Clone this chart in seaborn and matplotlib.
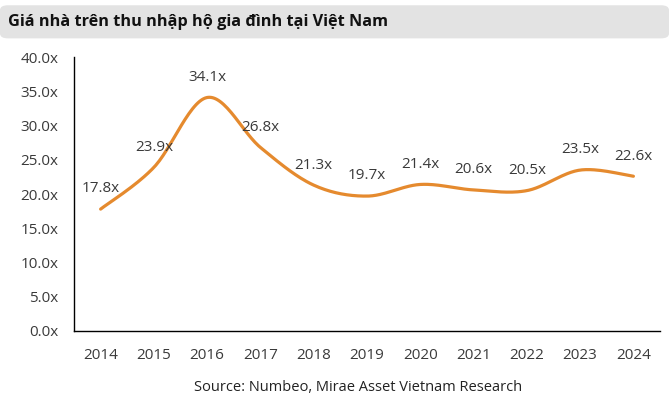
import numpy as np
import pandas as pd
import matplotlib
matplotlib.use("Agg")
import matplotlib.pyplot as plt
from matplotlib.patches import FancyBboxPatch
import seaborn as sns

# Dữ liệu
years = ["2014", "2015", "2016", "2017", "2018", "2019", "2020", "2021", "2022", "2023", "2024"]
ratio = [17.8, 23.9, 34.1, 26.8, 21.3, 19.7, 21.4, 20.6, 20.5, 23.5, 22.6]
labels = ["17.8x", "23.9x", "34.1x", "26.8x", "21.3x", "19.7x", "21.4x", "20.6x", "20.5x", "23.5x", "22.6x"]

sns.set_style("white")
plt.rcParams["font.family"] = ["Open Sans", "DejaVu Sans"]

text_col = "#3a3a3a"
line_col = "#E58A2E"

fig = plt.figure(figsize=(6.69, 4.04), dpi=100)
ax = fig.add_axes([0.1106, 0.1807, 0.876, 0.678])

# duong cong muot kieu Excel (Catmull-Rom)
x = np.arange(len(years), dtype=float)
y = np.array(ratio)
px = np.concatenate([[x[0]], x, [x[-1]]])
py = np.concatenate([[y[0]], y, [y[-1]]])
xs, ys = [], []
t = np.linspace(0, 1, 30)
for i in range(1, len(px) - 2):
    p0, p1, p2, p3 = [np.array([px[j], py[j]]) for j in range(i - 1, i + 3)]
    c1 = p1 + (p2 - p0) / 6
    c2 = p2 - (p3 - p1) / 6
    seg = ((1 - t) ** 3)[:, None] * p1 + (3 * (1 - t) ** 2 * t)[:, None] * c1 \
        + (3 * (1 - t) * t ** 2)[:, None] * c2 + (t ** 3)[:, None] * p2
    xs.extend(seg[:, 0])
    ys.extend(seg[:, 1])
curve = pd.DataFrame({"x": xs, "y": ys})
sns.lineplot(data=curve, x="x", y="y", ax=ax, color=line_col, linewidth=2.3,
             sort=False, estimator=None)

for xi, yi, lab in zip(x, y, labels):
    ax.annotate(lab, (xi, yi), xytext=(0, 14.5), textcoords="offset points",
                ha="center", va="center", fontsize=11, color=text_col)

ax.set_xlim(-0.5, len(years) - 0.5)
ax.set_ylim(0, 40)
ax.set_yticks(np.arange(0, 41, 5))
ax.set_yticklabels([f"{v:.1f}x" for v in np.arange(0, 41, 5)])
ax.set_xticks(np.arange(-0.5, len(years), 1))
ax.set_xticklabels([])
ax.set_xticks(x, minor=True)
ax.set_xticklabels(years, minor=True)
ax.tick_params(axis="x", which="major", direction="in", length=4, width=0.8, color="black")
ax.tick_params(axis="x", which="minor", length=0, pad=12, labelsize=11, labelcolor=text_col)
ax.tick_params(axis="y", direction="in", length=4, width=0.8, color="black",
               pad=11, labelsize=11, labelcolor=text_col)
ax.set_xlabel("")
ax.set_ylabel("")
for s in ["top", "right"]:
    ax.spines[s].set_visible(False)
for s in ["left", "bottom"]:
    ax.spines[s].set_color("black")
    ax.spines[s].set_linewidth(1.0)

# thanh tieu de
bar = FancyBboxPatch((0.0, 0.905), 1.0, 0.082, boxstyle="round,pad=0,rounding_size=0.012",
                     transform=fig.transFigure, facecolor="#e3e3e3", edgecolor="none")
fig.patches.append(bar)
fig.text(0.012, 0.945, "Giá nhà trên thu nhập hộ gia đình tại Việt Nam", fontsize=11.7,
         fontweight="bold", color="#111111", ha="left", va="center")

fig.text(0.535, 0.042, "Source: Numbeo, Mirae Asset Vietnam Research", fontsize=10.5,
         color="#222222", ha="center", va="center")

fig.savefig("out.png", dpi=100)
